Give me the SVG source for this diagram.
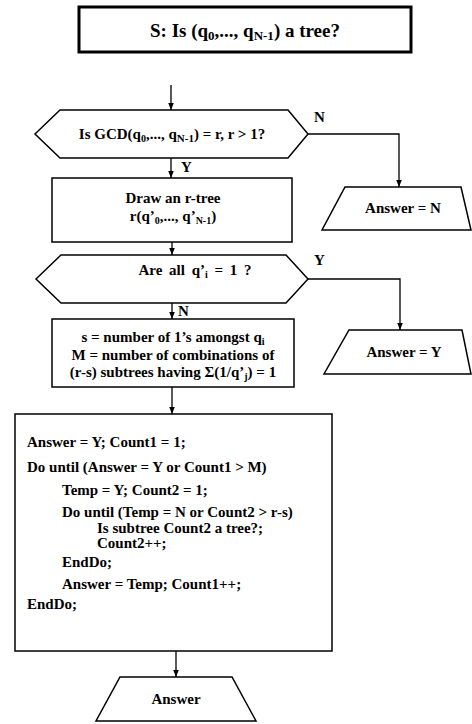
<svg xmlns="http://www.w3.org/2000/svg" width="472" height="724" viewBox="0 0 472 724">
<style>
text{font-family:"Liberation Serif","Times New Roman",serif;font-weight:bold;fill:#000}
.t{font-size:15px}
.c{text-anchor:middle}
.s{font-size:10px}
.shape{fill:#fff;stroke:#000;stroke-width:1.5}
.conn{fill:none;stroke:#000;stroke-width:1.3}
</style>
<defs>
<marker id="ah" viewBox="0 0 10 10" refX="10" refY="5" markerWidth="7" markerHeight="7" markerUnits="userSpaceOnUse" orient="auto">
<path d="M0,1 L10,5 L0,9 Z" fill="#000"/>
</marker>
</defs>
<rect width="472" height="724" fill="#fff"/>
<g id="title">
<rect x="79" y="7" width="332" height="45" fill="#fff" stroke="#000" stroke-width="3"/>
<text x="245" y="37" class="c" font-size="19">S: Is (q<tspan font-size="13" dy="3">0</tspan><tspan dy="-3">,..., q</tspan><tspan font-size="13" dy="3">N-1</tspan><tspan dy="-3">) a tree?</tspan></text>
</g>
<g id="connectors">
<line class="conn" x1="171" y1="85" x2="171" y2="110" marker-end="url(#ah)"/>
<path class="conn" d="M308,134 H399 V187" marker-end="url(#ah)"/>
<line class="conn" x1="171" y1="158" x2="171" y2="178" marker-end="url(#ah)"/>
<line class="conn" x1="172" y1="242" x2="172" y2="255" marker-end="url(#ah)"/>
<path class="conn" d="M308,279 H400 V330" marker-end="url(#ah)"/>
<line class="conn" x1="172" y1="303" x2="172" y2="319" marker-end="url(#ah)"/>
<line class="conn" x1="172" y1="387" x2="172" y2="414" marker-end="url(#ah)"/>
<line class="conn" x1="176" y1="651" x2="176" y2="677" marker-end="url(#ah)"/>
<text x="314" y="122" class="t">N</text>
<text x="181" y="172" class="t">Y</text>
<text x="314" y="265" class="t">Y</text>
<text x="178" y="316" class="t">N</text>
</g>
<g id="gcd">
<polygon class="shape" points="35,134 60,110 288,110 308,134 288,158 60,158"/>
<text x="172" y="139" class="t c">Is GCD(q<tspan class="s" dy="3">0</tspan><tspan dy="-3">,..., q</tspan><tspan font-size="11" dy="3">N-1</tspan><tspan dy="-3">) = r, r &gt; 1?</tspan></text>
</g>
<g id="answerN">
<polygon class="shape" points="345,187 461,187 471,230 322,230"/>
<text x="403" y="213" class="t c">Answer = N</text>
</g>
<g id="drawTree">
<rect class="shape" x="52" y="178" width="240" height="64"/>
<text x="173" y="203" class="t c">Draw an r-tree</text>
<text x="173" y="221" class="t c">r(q’<tspan class="s" dy="3">0</tspan><tspan dy="-3">,..., q’</tspan><tspan class="s" dy="3">N-1</tspan><tspan dy="-3">)</tspan></text>
</g>
<g id="allOne">
<polygon class="shape" points="36,279 61,255 286,255 308,279 286,303 61,303"/>
<text x="195" y="275" class="t c" word-spacing="3">Are all q’<tspan class="s" dy="3">i</tspan><tspan dy="-3"> = 1 ?</tspan></text>
</g>
<g id="answerY">
<polygon class="shape" points="349,330 462,330 471,374 324,374"/>
<text x="404" y="357" class="t c">Answer = Y</text>
</g>
<g id="count">
<rect class="shape" x="52" y="319" width="242" height="68"/>
<text x="173" y="342" class="t c">s = number of 1’s amongst q<tspan class="s" dy="3">i</tspan></text>
<text x="173" y="360" class="t c">M = number of combinations of</text>
<text x="173" y="377" class="t c">(r-s) subtrees having Σ(1/q’<tspan class="s" dy="3">j</tspan><tspan dy="-3">) = 1</tspan></text>
</g>
<g id="loop">
<rect class="shape" x="15" y="414" width="317" height="237"/>
<text x="27" y="447" class="t">Answer = Y; Count1 = 1;</text>
<text x="27" y="472" class="t">Do until (Answer = Y or Count1 &gt; M)</text>
<text x="62" y="495" class="t">Temp = Y; Count2 = 1;</text>
<text x="62" y="517" class="t">Do until (Temp = N or Count2 &gt; r-s)</text>
<text x="97" y="533" class="t">Is subtree Count2 a tree?;</text>
<text x="97" y="548" class="t">Count2++;</text>
<text x="62" y="567" class="t">EndDo;</text>
<text x="62" y="589" class="t">Answer = Temp; Count1++;</text>
<text x="27" y="609" class="t">EndDo;</text>
</g>
<g id="answer">
<polygon class="shape" points="120,677 232,677 256,721 96,721"/>
<text x="176" y="704" class="t c">Answer</text>
</g>
</svg>
